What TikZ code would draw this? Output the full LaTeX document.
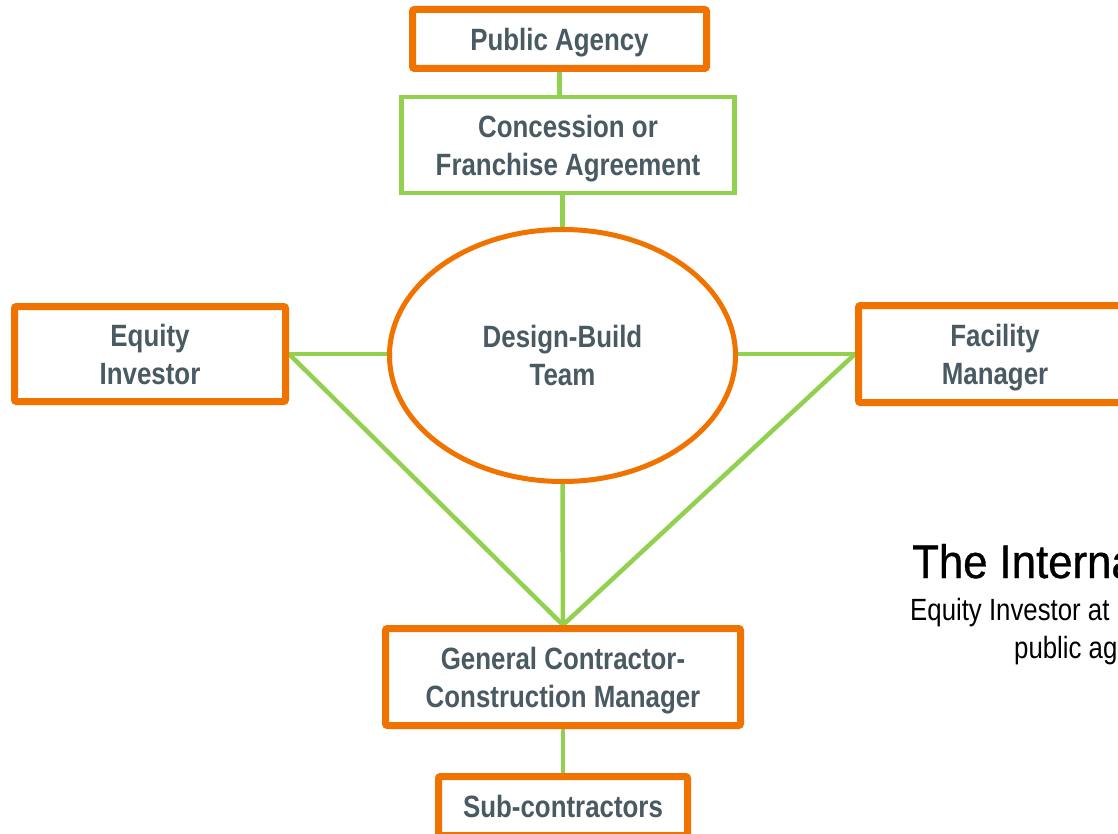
\documentclass[tikz,border=0pt]{standalone}
\usepackage{fontspec}
\setmainfont{Liberation Sans}[FakeStretch=0.84]
\newfontfamily\headfont{Liberation Sans}[FakeStretch=0.93, FakeBold=0.8]
\usetikzlibrary{shapes.geometric,backgrounds}
\definecolor{brandorange}{HTML}{F07300}
\definecolor{linkgreen}{HTML}{92D050}
\definecolor{labelgray}{HTML}{4A5A62}
\begin{document}
\begin{tikzpicture}[x=1pt,y=-1pt,
  labeltext/.style={font=\fontsize{30.8}{38}\selectfont\bfseries, text=labelgray, align=center, text depth=-3pt},
  party/.style={labeltext, draw=brandorange, line width=7pt, rounded corners=2pt, fill=white, inner sep=0pt},
  pact/.style={labeltext, draw=linkgreen, line width=4.5pt, fill=white, inner sep=0pt},
  team/.style={labeltext, ellipse, draw=brandorange, line width=5pt, fill=white, inner sep=0pt},
  link/.style={draw=linkgreen, line width=4.5pt},
  caption/.style={anchor=base west, inner sep=0pt, text=black}]
\useasboundingbox (0,0) rectangle (1118,834);
\clip (0,0) rectangle (1118,834);

% parties and agreements
\node[party, minimum width=294pt, minimum height=59pt] (pa) at (559.5,39) {Public Agency};
\node[pact, minimum width=333pt, minimum height=96pt] (ca) at (568,145) {Concession or\\Franchise Agreement};
\node[team, minimum width=346pt, minimum height=252pt] (db) at (562.5,355.5) {Design-Build\\Team};
\node[party, minimum width=271pt, minimum height=95pt] (eq) at (150,354) {Equity\\Investor};
\node[party, minimum width=273pt, minimum height=97pt] (fm) at (995,354) {Facility\\Manager};
\node[party, minimum width=355pt, minimum height=97pt] (gc) at (563,677) {General Contractor-\\Construction Manager};
\node[party, minimum width=249pt, minimum height=59pt] (sc) at (563,806) {Sub-contractors};

% connectors behind the boxes
\begin{scope}[on background layer]
  \draw[link] (pa.south) -- (pa.south |- ca.north);
  \draw[link] (db.north) -- (db.north |- ca.south);
  \draw[link] (eq.east) -- (eq.east -| db.west);
  \draw[link] (fm.west) -- (fm.west -| db.east);
  \draw[link] (eq.east) -- (gc.north);
  \draw[link] (fm.west) -- (gc.north);
  \draw[link] (db.south) -- (gc.north);
  \draw[link] (gc.south) -- (sc.north);
\end{scope}

% caption
\node[caption, font=\headfont\fontsize{47}{47}\selectfont] (title) at (912,578) {The International};
\node[caption, font=\fontsize{30.7}{30.7}\selectfont] (sub1) at (910,620) {Equity Investor at};
\node[caption, font=\fontsize{30.7}{30.7}\selectfont] (sub2) at (1014,658) {public agency};
\end{tikzpicture}
\end{document}
